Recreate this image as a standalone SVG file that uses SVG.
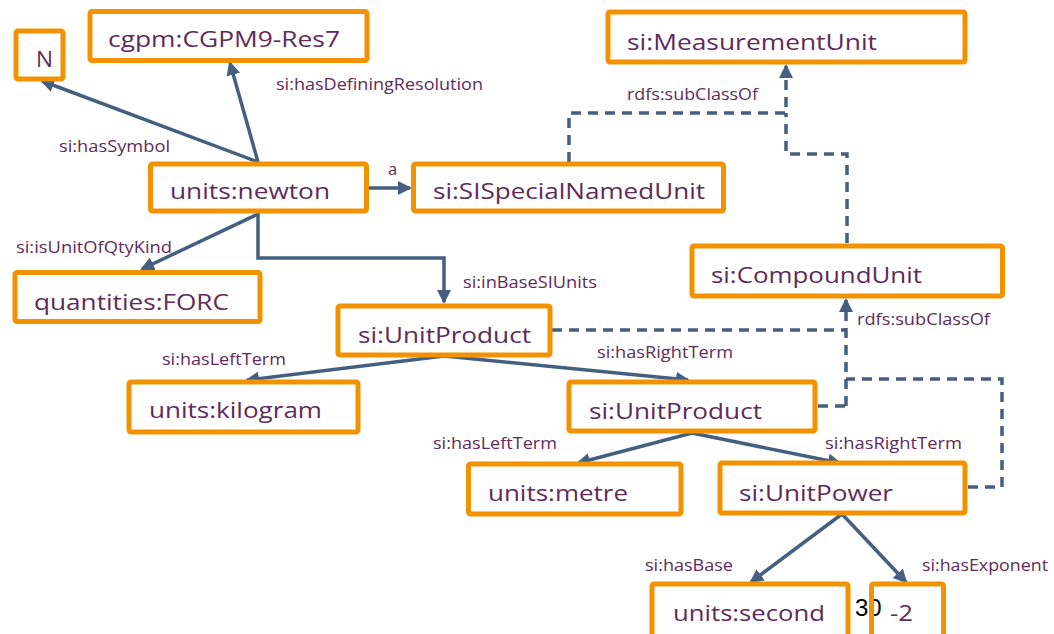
<svg xmlns="http://www.w3.org/2000/svg" width="1054" height="634" viewBox="0 0 1054 634">
<style>
.box{fill:#fff;stroke:#F39200;stroke-width:5}
.nt{font-family:"Open Sans","Liberation Sans",sans-serif;font-size:22px;fill:#5E2B5B}
.lb{font-family:"Open Sans","Liberation Sans",sans-serif;font-size:16.5px;fill:#5E2B5B}
.ln{fill:none;stroke:#445F7F;stroke-width:3.5}
.ds{fill:none;stroke:#445F7F;stroke-width:3.5;stroke-dasharray:10 7}
</style>
<defs>
<marker id="ah" markerUnits="userSpaceOnUse" markerWidth="16" markerHeight="16" refX="12" refY="7" orient="auto">
<path d="M0,0 L14,7 L0,14 z" fill="#445F7F"/>
</marker>
</defs>
<rect width="1054" height="634" fill="#fff"/>
<g id="connectors">
<path class="ln" d="M258,162 L42,81" marker-end="url(#ah)"/>
<path class="ln" d="M258,162 L230,63" marker-end="url(#ah)"/>
<path class="ln" d="M369,188 L410,188" marker-end="url(#ah)"/>
<path class="ln" d="M258,214 L142,269" marker-end="url(#ah)"/>
<path class="ln" d="M258,213 L258,258 L444,258 L444,302" marker-end="url(#ah)"/>
<path class="ln" d="M444,356 L247,380" marker-end="url(#ah)"/>
<path class="ln" d="M444,356 L688,380" marker-end="url(#ah)"/>
<path class="ln" d="M692,433 L578,463" marker-end="url(#ah)"/>
<path class="ln" d="M692,433 L840,463" marker-end="url(#ah)"/>
<path class="ln" d="M842,514 L751,582" marker-end="url(#ah)"/>
<path class="ln" d="M842,514 L906,582" marker-end="url(#ah)"/>
<path class="ds" d="M569,162 L569,113 L786,113 L786,66" marker-end="url(#ah)"/>
<path class="ds" d="M847,243 L847,154 L786,154 L786,113"/>
<path class="ds" d="M552,330 L846,330"/>
<path class="ds" d="M818,406 L846,406"/>
<path class="ds" d="M968,487 L1002,487 L1002,379 L846,379"/>
<path class="ds" d="M846,406 L846,300" marker-end="url(#ah)"/>
<text class="lb" x="276" y="90" textLength="207" lengthAdjust="spacingAndGlyphs">si:hasDefiningResolution</text>
<text class="lb" x="59" y="152" textLength="111" lengthAdjust="spacingAndGlyphs">si:hasSymbol</text>
<text class="lb" x="388" y="175">a</text>
<text class="lb" x="627" y="100" textLength="131" lengthAdjust="spacingAndGlyphs">rdfs:subClassOf</text>
<text class="lb" x="16" y="253" textLength="156" lengthAdjust="spacingAndGlyphs">si:isUnitOfQtyKind</text>
<text class="lb" x="463" y="288" textLength="134" lengthAdjust="spacingAndGlyphs">si:inBaseSIUnits</text>
<text class="lb" x="857" y="325" textLength="133" lengthAdjust="spacingAndGlyphs">rdfs:subClassOf</text>
<text class="lb" x="162" y="365" textLength="124" lengthAdjust="spacingAndGlyphs">si:hasLeftTerm</text>
<text class="lb" x="597" y="358" textLength="136" lengthAdjust="spacingAndGlyphs">si:hasRightTerm</text>
<text class="lb" x="433" y="449" textLength="124" lengthAdjust="spacingAndGlyphs">si:hasLeftTerm</text>
<text class="lb" x="825" y="449" textLength="137" lengthAdjust="spacingAndGlyphs">si:hasRightTerm</text>
<text class="lb" x="645" y="571" textLength="88" lengthAdjust="spacingAndGlyphs">si:hasBase</text>
<text class="lb" x="922" y="571" textLength="126" lengthAdjust="spacingAndGlyphs">si:hasExponent</text>
</g>
<g id="n-N"><rect class="box" x="16" y="31" width="47" height="48" rx="2"/><text class="nt" x="36" y="67" textLength="17" lengthAdjust="spacingAndGlyphs">N</text></g>
<g id="n-cgpm"><rect class="box" x="90" y="11.5" width="277" height="49" rx="2"/><text class="nt" x="108" y="47" textLength="232" lengthAdjust="spacingAndGlyphs">cgpm:CGPM9-Res7</text></g>
<g id="n-newton"><rect class="box" x="150.5" y="164" width="216" height="47" rx="2"/><text class="nt" x="170" y="199" textLength="160" lengthAdjust="spacingAndGlyphs">units:newton</text></g>
<g id="n-sispecial"><rect class="box" x="413.5" y="164" width="310" height="47" rx="2"/><text class="nt" x="433" y="199" textLength="272" lengthAdjust="spacingAndGlyphs">si:SISpecialNamedUnit</text></g>
<g id="n-measurementunit"><rect class="box" x="608" y="12" width="357" height="50" rx="2"/><text class="nt" x="627" y="50" textLength="250" lengthAdjust="spacingAndGlyphs">si:MeasurementUnit</text></g>
<g id="n-compoundunit"><rect class="box" x="692" y="246" width="310.5" height="50" rx="2"/><text class="nt" x="711" y="283" textLength="211" lengthAdjust="spacingAndGlyphs">si:CompoundUnit</text></g>
<g id="n-force"><rect class="box" x="15" y="272.5" width="245" height="49" rx="2"/><text class="nt" x="34" y="310" textLength="195" lengthAdjust="spacingAndGlyphs">quantities:FORC</text></g>
<g id="n-unitproduct1"><rect class="box" x="338" y="306" width="212" height="49" rx="2"/><text class="nt" x="358" y="343" textLength="173" lengthAdjust="spacingAndGlyphs">si:UnitProduct</text></g>
<g id="n-kilogram"><rect class="box" x="129" y="382" width="229" height="50" rx="2"/><text class="nt" x="149" y="418" textLength="173" lengthAdjust="spacingAndGlyphs">units:kilogram</text></g>
<g id="n-unitproduct2"><rect class="box" x="569" y="382" width="246" height="49" rx="2"/><text class="nt" x="589" y="419" textLength="173" lengthAdjust="spacingAndGlyphs">si:UnitProduct</text></g>
<g id="n-metre"><rect class="box" x="468.5" y="464" width="212.5" height="50" rx="2"/><text class="nt" x="488" y="501" textLength="140" lengthAdjust="spacingAndGlyphs">units:metre</text></g>
<g id="n-unitpower"><rect class="box" x="720" y="463" width="245" height="50" rx="2"/><text class="nt" x="739" y="501" textLength="154" lengthAdjust="spacingAndGlyphs">si:UnitPower</text></g>
<g id="n-second"><rect class="box" x="652" y="584" width="196" height="60" rx="2"/><text class="nt" x="673" y="621" textLength="152" lengthAdjust="spacingAndGlyphs">units:second</text></g>
<text x="855" y="616" font-family="Liberation Sans, sans-serif" font-size="24" fill="#000">30</text>
<g id="n-minus2"><rect class="box" x="871.5" y="584" width="72" height="60" rx="2" style="fill:none"/><text class="nt" x="890" y="621" textLength="23" lengthAdjust="spacingAndGlyphs">-2</text></g>
</svg>
